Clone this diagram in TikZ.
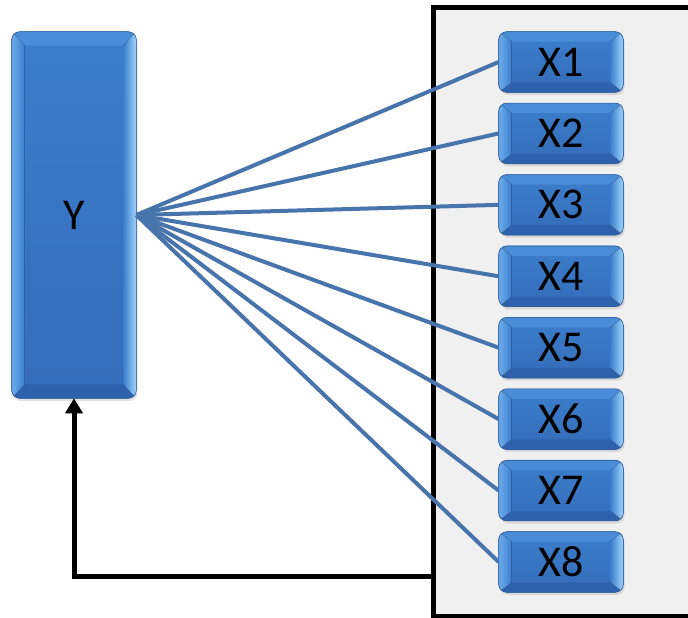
\documentclass[tikz,border=0pt]{standalone}
\usepackage{fontspec}
\setmainfont{Carlito}
\usetikzlibrary{calc,arrows.meta,shadows}
\definecolor{faceblue}{RGB}{60,126,204}
\definecolor{facebot}{RGB}{52,108,184}
\definecolor{bvtop}{RGB}{74,140,214}
\definecolor{bvbot}{RGB}{47,98,172}
\definecolor{bvleft}{RGB}{110,172,235}
\definecolor{bvright}{RGB}{160,212,252}
\definecolor{edgeblue}{RGB}{45,90,155}
\definecolor{linkblue}{RGB}{72,116,172}
\definecolor{panelgray}{RGB}{240,240,240}
\tikzset{
  bevbox/.style={rounded corners=8pt, top color=faceblue, bottom color=facebot,
    draw=edgeblue, line width=0.6pt, inner sep=0pt,
    drop shadow={opacity=0.22, shadow xshift=1.5pt, shadow yshift=-3pt},
    font=\fontsize{44}{44}\selectfont, text=black},
  ybox/.style={bevbox, minimum width=124pt, minimum height=366pt},
  xbox/.style={bevbox, minimum width=124pt, minimum height=60pt},
  lab/.style={font=\fontsize{44}{44}\selectfont, text=black},
  link/.style={draw=linkblue, line width=4pt},
  feedback/.style={draw=black, line width=5pt, -{Triangle[length=15pt,width=17pt]}},
  panelstyle/.style={draw=black, fill=panelgray, line width=5pt}
}
\newcommand{\bevelize}[3]{%
  \begin{scope}
    \clip[rounded corners=8pt] (#1.north west) rectangle (#1.south east);
    \coordinate (bA) at (#1.north west);
    \coordinate (bB) at (#1.north east);
    \coordinate (bC) at (#1.south east);
    \coordinate (bD) at (#1.south west);
    \coordinate (iA) at ($(bA)+(#2,#3)$);
    \coordinate (iB) at ($(bB)+(-#2,#3)$);
    \coordinate (iC) at ($(bC)+(-#2,-#3)$);
    \coordinate (iD) at ($(bD)+(#2,-#3)$);
    \fill[bvtop] (bA)--(bB)--(iB)--(iA)--cycle;
    \fill[bvbot] (bD)--(bC)--(iC)--(iD)--cycle;
    \fill[left color=bvleft, right color=faceblue] (bA)--(iA)--(iD)--(bD)--cycle;
    \fill[left color=faceblue, right color=bvright] (bB)--(iB)--(iC)--(bC)--cycle;
  \end{scope}
  \draw[edgeblue, line width=0.6pt, rounded corners=8pt] (#1.north west) rectangle (#1.south east);
}
\begin{document}
\begin{tikzpicture}[x=1pt, y=-1pt]
  \clip (0,0) rectangle (688,618);
  \fill[white] (0,0) rectangle (688,618);
  \draw[panelstyle] (433,8) rectangle (700,616);
  \coordinate (fb) at (433,576);

  \node[ybox] (Y) at (74,215) {};
  \bevelize{Y}{13}{14}
  \node[lab] (Ylab) at (Y.center) {Y};

  \foreach \i in {1,...,8} {
    \pgfmathsetmacro{\yy}{62+71.43*(\i-1)}
    \node[xbox] (X\i) at (561,\yy) {};
  }
  \foreach \i in {1,...,8} {
    \draw[link] (Y.east) -- (X\i.west);
  }
  \foreach \i in {1,...,8} {
    \bevelize{X\i}{13}{10}
    \node[lab] (L\i) at (X\i.center) {X\i};
  }

  \draw[feedback] (fb) -| (Y.south);
\end{tikzpicture}
\end{document}
